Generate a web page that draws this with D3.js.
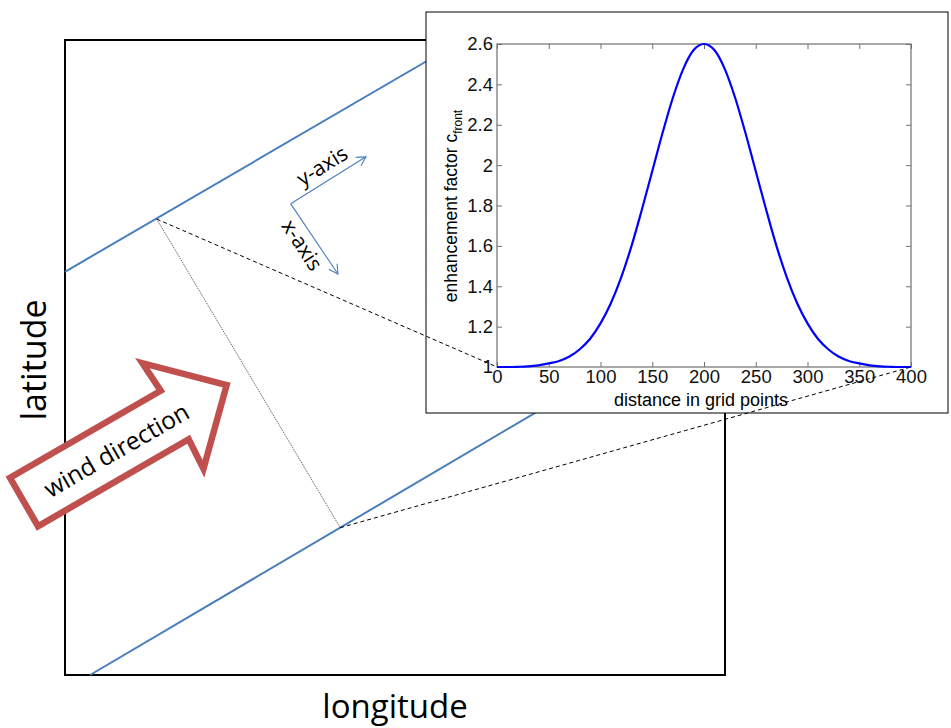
<!DOCTYPE html>
<html>
<head>
<meta charset="utf-8">
<script src="https://cdn.jsdelivr.net/npm/d3@7"></script>
<style>
  body { margin: 0; background: #fff; }
  svg { display: block; }
</style>
</head>
<body>
<div id="content"></div>
<script>
// inset profile
const distance = [0, 10, 20, 30, 40, 50, 60, 70, 80, 90, 100, 110, 120, 130, 140, 150, 160, 170, 180, 190,
  200, 210, 220, 230, 240, 250, 260, 270, 280, 290, 300, 310, 320, 330, 340, 350, 360, 370, 380, 390, 400];
const factor = [1.000, 1.000, 1.001, 1.003, 1.008, 1.018, 1.030, 1.052, 1.088, 1.140, 1.216, 1.316, 1.444, 1.600, 1.780, 1.970, 2.160, 2.335, 2.477, 2.570,
  2.600, 2.570, 2.477, 2.335, 2.160, 1.970, 1.780, 1.600, 1.444, 1.316, 1.216, 1.140, 1.088, 1.052, 1.030, 1.018, 1.008, 1.003, 1.001, 1.000, 1.000];
const xTicks = [0, 50, 100, 150, 200, 250, 300, 350, 400];
const yTicks = [1, 1.2, 1.4, 1.6, 1.8, 2, 2.2, 2.4, 2.6];
const yTickLabels = ["1", "1.2", "1.4", "1.6", "1.8", "2", "2.2", "2.4", "2.6"];

// schematic in normalised map units (lon 0..1 left->right, lat 0..1 bottom->top)
const upperFront = [[0, 0.635], [0.603, 1]];
const lowerFront = [[0.038, 0], [1, 0.589]];
const frontPointA = [0.139, 0.718];
const frontPointB = [0.417, 0.232];
const axisOrigin = [0.342, 0.742];
const yAxisTip = [0.456, 0.816];
const xAxisTip = [0.4136, 0.6315];

const W = 951, H = 728;
const blue = "#4a7ebb", red = "#c0504d";

const svg = d3.select("#content").append("svg")
  .attr("width", W).attr("height", H);

const defs = svg.append("defs");
defs.append("marker")
  .attr("id", "openhead")
  .attr("viewBox", "-10 -6 12 12")
  .attr("refX", 0).attr("refY", 0)
  .attr("markerWidth", 12).attr("markerHeight", 12)
  .attr("markerUnits", "userSpaceOnUse")
  .attr("orient", "auto")
  .append("path")
  .attr("d", "M-9,-5 L0,0 L-9,5")
  .style("fill", "none").style("stroke", blue).style("stroke-width", 1.1);

// map frame
const lon = d3.scaleLinear().domain([0, 1]).range([65, 725]);
const lat = d3.scaleLinear().domain([0, 1]).range([675, 40]);
const mp = p => [lon(p[0]), lat(p[1])];
const line = d3.line();

svg.append("rect")
  .attr("x", lon(0)).attr("y", lat(1))
  .attr("width", lon(1) - lon(0)).attr("height", lat(0) - lat(1))
  .style("fill", "none").style("stroke", "#000").style("stroke-width", 2);

[upperFront, lowerFront].forEach(f => {
  svg.append("path")
    .attr("d", line(f.map(mp)))
    .style("fill", "none").style("stroke", blue).style("stroke-width", 2);
});

svg.append("path")
  .attr("d", line([frontPointA, frontPointB].map(mp)))
  .style("stroke", "#555").style("stroke-width", 0.9).style("stroke-dasharray", "1.5,1");

// small axis arrows
svg.append("path")
  .attr("d", line([axisOrigin, yAxisTip].map(mp)))
  .attr("marker-end", "url(#openhead)")
  .style("fill", "none").style("stroke", blue).style("stroke-width", 1.1);
svg.append("path")
  .attr("d", line([axisOrigin, xAxisTip].map(mp)))
  .attr("marker-end", "url(#openhead)")
  .style("fill", "none").style("stroke", blue).style("stroke-width", 1.1);

svg.append("text")
  .attr("transform", "translate(326,172) rotate(-32)")
  .attr("text-anchor", "middle")
  .style("font-family", "'Open Sans', sans-serif").style("font-size", "21px")
  .text("y-axis");
svg.append("text")
  .attr("transform", "translate(296,249) rotate(57)")
  .attr("text-anchor", "middle")
  .style("font-family", "'Open Sans', sans-serif").style("font-size", "21px")
  .text("x-axis");

// wind arrow, drawn in its own frame along the wind
const wind = svg.append("g").attr("transform", "translate(24,502) rotate(-30)");
wind.append("path")
  .attr("d", line([[0, -28], [174, -28], [172, -61], [234, 0], [172, 61], [174, 28], [0, 28]]) + "Z")
  .style("fill", "#fff").style("stroke", red).style("stroke-width", 6.5).style("stroke-linejoin", "miter");
wind.append("text")
  .attr("x", 106).attr("y", 10)
  .attr("text-anchor", "middle")
  .style("font-family", "'Open Sans', sans-serif").style("font-size", "24.5px")
  .text("wind direction");

svg.append("text")
  .attr("x", 395).attr("y", 718)
  .attr("text-anchor", "middle")
  .style("font-family", "'Open Sans', sans-serif").style("font-size", "33px")
  .text("longitude");
svg.append("text")
  .attr("transform", "translate(46,360) rotate(-90)")
  .attr("text-anchor", "middle")
  .style("font-family", "'Open Sans', sans-serif").style("font-size", "34px")
  .text("latitude");

// inset
svg.append("rect")
  .attr("x", 426).attr("y", 12).attr("width", 522).attr("height", 401)
  .style("fill", "#fff").style("stroke", "#000").style("stroke-width", 1);

const x = d3.scaleLinear().domain([0, 400]).range([497, 911]);
const y = d3.scaleLinear().domain([1, 2.6]).range([367, 44]);
const axisCol = "#707070";
const font = "'Liberation Sans', Arial, sans-serif";

function styleAxis(g, labels) {
  g.select(".domain").remove();
  g.selectAll(".tick line").style("stroke", axisCol);
  g.selectAll(".tick text")
    .style("font-family", font).style("font-size", "18.5px").style("fill", "#111")
    .style("display", labels ? null : "none");
}

svg.append("g").attr("transform", "translate(0," + y(1) + ")")
  .call(d3.axisBottom(x).tickValues(xTicks).tickSizeInner(-5).tickSizeOuter(0).tickPadding(3))
  .call(g => styleAxis(g, true));
svg.append("g").attr("transform", "translate(0," + y(2.6) + ")")
  .call(d3.axisTop(x).tickValues(xTicks).tickSizeInner(-5).tickSizeOuter(0))
  .call(g => styleAxis(g, false));
svg.append("g").attr("transform", "translate(" + x(0) + ",0)")
  .call(d3.axisLeft(y).tickValues(yTicks).tickFormat((d, i) => yTickLabels[i]).tickSizeInner(-5).tickSizeOuter(0).tickPadding(4))
  .call(g => styleAxis(g, true));
svg.append("g").attr("transform", "translate(" + x(400) + ",0)")
  .call(d3.axisRight(y).tickValues(yTicks).tickSizeInner(-5).tickSizeOuter(0))
  .call(g => styleAxis(g, false));

svg.append("rect")
  .attr("x", x(0)).attr("y", y(2.6))
  .attr("width", x(400) - x(0)).attr("height", y(1) - y(2.6))
  .style("fill", "none").style("stroke", axisCol).style("stroke-width", 1.2);

svg.append("path")
  .datum(distance.map((d, i) => [d, factor[i]]))
  .attr("d", d3.line().x(d => x(d[0])).y(d => y(d[1])).curve(d3.curveMonotoneX))
  .style("fill", "none").style("stroke", "#0000ff").style("stroke-width", 2.2);

svg.append("text")
  .attr("x", 701).attr("y", 406)
  .attr("text-anchor", "middle")
  .style("font-family", font).style("font-size", "18px")
  .text("distance in grid points");

const ylab = svg.append("text")
  .attr("transform", "translate(457,206) rotate(-90)")
  .attr("text-anchor", "middle")
  .style("font-family", font).style("font-size", "17.5px");
ylab.append("tspan").text("enhancement factor c");
ylab.append("tspan").attr("dy", 5).style("font-size", "12px").text("front");

// dashed links from the front to the profile ends
svg.append("path")
  .attr("d", line([mp(frontPointA), [x(0), y(1)]]))
  .style("stroke", "#000").style("stroke-width", 1).style("stroke-dasharray", "4,3");
svg.append("path")
  .attr("d", line([mp(frontPointB), [x(400), y(1)]]))
  .style("stroke", "#000").style("stroke-width", 1).style("stroke-dasharray", "4,3");
</script>
</body>
</html>
